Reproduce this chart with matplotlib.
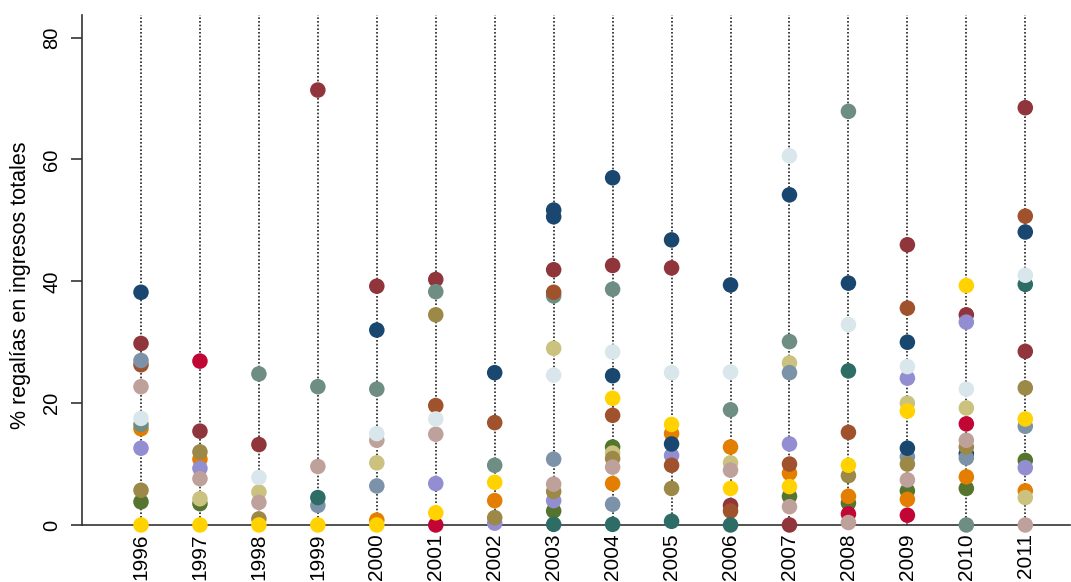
import numpy as np
import matplotlib
matplotlib.use("Agg")
import matplotlib.pyplot as plt

plt.rcParams['font.family'] = ['Liberation Sans', 'DejaVu Sans']

years = list(range(1996, 2012))

# one list per series, one value per year (None = no dot that year)
s01 = [38.2, None, None, None, 32.0, None, 25.0, 51.7, 57.0, 46.8, 39.4, 54.2, 39.7, 30.0, 11.7, 48.1]
s02 = [29.8, 15.4, 13.2, 71.4, 39.2, 40.3, None, 41.9, 42.6, 42.2, 3.2, 0.0, None, 46.0, 34.5, 68.5]
s03 = [3.8, 3.5, None, None, None, None, None, 2.3, 12.8, None, None, 4.7, 3.6, 5.6, 6.0, 10.6]
s04 = [15.8, 10.8, None, None, 0.8, None, 4.0, None, 6.8, 15.0, 12.8, 8.5, 4.7, 4.2, 7.9, 5.6]
s05 = [16.5, None, 24.8, 22.7, 22.3, 38.3, 9.8, 37.6, 38.7, None, 18.9, 30.1, 67.9, None, 0.0, None]
s06 = [None, 26.9, None, None, None, 0.0, None, None, None, None, None, None, 1.8, 1.6, 16.6, None]
s07 = [12.6, 9.3, None, None, None, 6.8, 0.3, 4.0, None, 11.4, None, 13.3, None, 24.1, 33.3, 9.4]
s08 = [None, 4.3, 5.4, None, 10.2, None, None, 29.0, 11.8, None, 10.2, 26.6, None, 20.0, 19.2, 4.5]
s09 = [26.3, None, None, None, None, 19.6, 16.8, 38.2, 18.0, 9.8, 2.3, 10.0, 15.2, 35.6, None, 50.7]
s10 = [27.0, None, None, 3.2, 6.4, None, None, 10.8, 3.4, None, None, 25.0, None, 11.2, 11.0, 16.2]
s11 = [None, None, None, 4.5, None, None, None, 0.1, 0.1, 0.6, 0.0, None, 25.3, None, None, 39.5]
s12 = [5.7, 12.0, 1.0, None, None, 34.5, 1.2, 5.5, 10.9, 6.0, None, None, 8.1, 10.0, 12.8, 22.5]
s13 = [22.7, 7.6, 3.7, 9.6, 13.9, 14.9, None, 6.7, 9.5, None, 9.0, 3.0, 0.4, 7.4, 13.9, 0.0]
s14 = [0.0, 0.0, 0.0, 0.0, 0.0, 2.0, 7.0, None, 20.8, 16.5, 6.0, 6.3, 9.8, 18.7, 39.3, 17.4]
s15 = [17.5, None, 7.8, None, 15.0, 17.4, None, 24.6, 28.4, 25.0, 25.1, 60.6, 32.9, 26.0, 22.3, 41.0]
s16 = [None, None, None, None, None, None, None, 50.6, 24.5, 13.3, None, None, None, 12.6, None, None]
s17 = [None, None, None, None, None, None, None, None, None, None, None, None, None, None, None, 28.5]

series = [s01, s02, s03, s04, s05, s06, s07, s08, s09, s10, s11, s12, s13, s14, s15, s16, s17]

# stata s2color cycle
palette = ["#1a476f", "#90353b", "#55752f", "#e37e00", "#6e8e84", "#c10534",
           "#938dd2", "#cac27e", "#a0522d", "#7b92a8", "#2d6d66", "#9c8847",
           "#bfa19c", "#ffd200", "#d9e6eb"]


def plot_chart():
    fig = plt.figure(figsize=(10.71, 5.82), dpi=100)
    ax = fig.add_axes([0.0766, 0.098, 0.922, 0.876])

    ax.vlines(years, 0, 83.7, colors="#222222", linestyles=(0, (1, 1.2)),
              linewidth=1.2, zorder=1)

    for i, vals in enumerate(series):
        v = np.array([np.nan if x is None else x for x in vals], dtype=float)
        ax.scatter(years, v, s=125, color=palette[i % len(palette)],
                   edgecolors="none", zorder=3, clip_on=False)

    ax.set_xlim(1995.0, 2011.75)
    ax.set_ylim(0, 83.7)
    ax.set_yticks([0, 20, 40, 60, 80])
    ax.set_xticks(years)
    ax.set_xticklabels([str(y) for y in years], rotation=90, fontsize=15)
    for lab in ax.get_yticklabels():
        lab.set_rotation(90)
        lab.set_va("center")
    ax.tick_params(axis="y", labelsize=14.5, length=8, width=1.2,
                   color="#333333", pad=7)
    ax.tick_params(axis="x", length=0, pad=6)
    ax.set_ylabel("% regalías en ingresos totales", fontsize=15.5, labelpad=8)
    ax.yaxis.set_label_coords(-0.052, 0.47)

    ax.spines["top"].set_visible(False)
    ax.spines["right"].set_visible(False)
    for sp in ("left", "bottom"):
        ax.spines[sp].set_color("#333333")
        ax.spines[sp].set_linewidth(1.2)

    fig.savefig("out.png", dpi=100)


if __name__ == "__main__":
    plot_chart()
